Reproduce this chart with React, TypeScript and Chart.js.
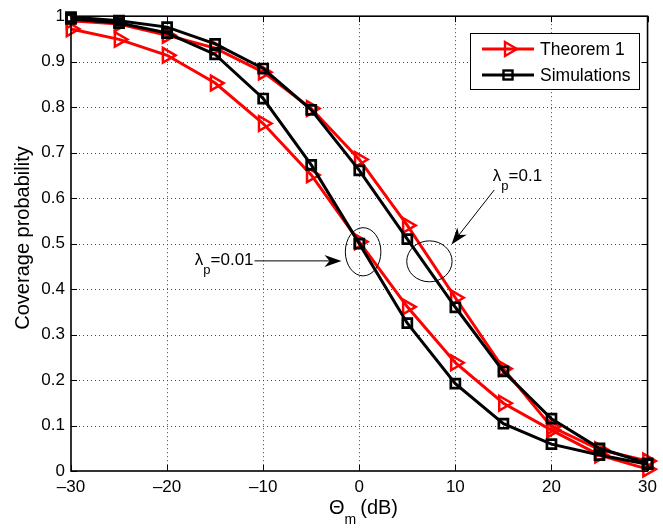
import React, { useEffect, useRef } from 'react';
import { Chart, registerables } from 'chart.js';

Chart.register(...registerables);

// ---------- data ----------
const thetaDb = [-30, -25, -20, -15, -10, -5, 0, 5, 10, 15, 20, 25, 30];
// lambda_p = 0.01
const theoremLow = [0.972, 0.949, 0.914, 0.853, 0.764, 0.651, 0.504, 0.361, 0.238, 0.149, 0.09, 0.035, 0.004];
const simLow = [0.994, 0.985, 0.963, 0.916, 0.819, 0.673, 0.5, 0.325, 0.192, 0.104, 0.059, 0.035, 0.015];
// lambda_p = 0.1
const theoremHigh = [0.99, 0.983, 0.958, 0.93, 0.877, 0.797, 0.685, 0.54, 0.381, 0.225, 0.097, 0.047, 0.022];
const simHigh = [0.998, 0.99, 0.976, 0.939, 0.885, 0.794, 0.661, 0.51, 0.36, 0.219, 0.115, 0.05, 0.017];

const xTicks = [-30, -20, -10, 0, 10, 20, 30];
const yTicks = [0, 0.1, 0.2, 0.3, 0.4, 0.5, 0.6, 0.7, 0.8, 0.9, 1];
const legendLabels = ['Theorem 1', 'Simulations'];
const yTitle = 'Coverage probability';
const xTitleMain = 'Θ';
const xTitleSub = 'm';
const xTitleRest = '\u2009(dB)';
const annLowLabel = { main: 'λ', sub: 'p', rest: '=0.01' };
const annHighLabel = { main: 'λ', sub: 'p', rest: '=0.1' };

const FONT = '"Liberation Sans", Arial, Helvetica, sans-serif';
const RED = '#ff0000';
const BLACK = '#000000';

const toPts = (ys: number[]) => thetaDb.map((x, i) => ({ x, y: ys[i] }));

function drawSubText(
  ctx: CanvasRenderingContext2D,
  x: number,
  baseline: number,
  main: string,
  sub: string,
  rest: string,
  size: number,
  subSize: number,
  subDrop: number,
  align: 'left' | 'right'
) {
  ctx.font = `${size}px ${FONT}`;
  const wMain = ctx.measureText(main).width;
  const wRest = ctx.measureText(rest).width;
  ctx.font = `${subSize}px ${FONT}`;
  const wSub = ctx.measureText(sub).width;
  const total = wMain + wSub + wRest;
  const left = align === 'left' ? x : x - total;
  ctx.textAlign = 'left';
  ctx.textBaseline = 'alphabetic';
  ctx.fillStyle = '#000';
  ctx.font = `${size}px ${FONT}`;
  ctx.fillText(main, left, baseline);
  ctx.font = `${subSize}px ${FONT}`;
  ctx.fillText(sub, left + wMain, baseline + subDrop);
  ctx.font = `${size}px ${FONT}`;
  ctx.fillText(rest, left + wMain + wSub, baseline);
}

function drawArrow(ctx: CanvasRenderingContext2D, x1: number, y1: number, x2: number, y2: number) {
  const ang = Math.atan2(y2 - y1, x2 - x1);
  const len = 17;
  const half = 6;
  const notch = 12;
  const cos = Math.cos(ang);
  const sin = Math.sin(ang);
  ctx.strokeStyle = '#000';
  ctx.lineWidth = 1;
  ctx.beginPath();
  ctx.moveTo(x1, y1);
  ctx.lineTo(x2 - cos * notch, y2 - sin * notch);
  ctx.stroke();
  ctx.fillStyle = '#000';
  ctx.beginPath();
  ctx.moveTo(x2, y2);
  ctx.lineTo(x2 - cos * len - sin * half, y2 - sin * len + cos * half);
  ctx.lineTo(x2 - cos * notch, y2 - sin * notch);
  ctx.lineTo(x2 - cos * len + sin * half, y2 - sin * len - cos * half);
  ctx.closePath();
  ctx.fill();
}

function triRight(ctx: CanvasRenderingContext2D, x: number, y: number, r: number) {
  ctx.beginPath();
  ctx.moveTo(x + r, y);
  ctx.lineTo(x - r / 2, y - r * 0.866);
  ctx.lineTo(x - r / 2, y + r * 0.866);
  ctx.closePath();
}

const matlabPlugin = {
  id: 'matlabStyle',
  beforeDatasetsDraw(chart: any) {
    const { ctx, chartArea: a } = chart;
    const xs = chart.scales.x;
    const ys = chart.scales.y;
    ctx.save();
    ctx.strokeStyle = '#444';
    ctx.lineWidth = 1;
    ctx.setLineDash([1, 3]);
    for (const v of xTicks) {
      if (v === xTicks[0] || v === xTicks[xTicks.length - 1]) continue;
      const p = Math.round(xs.getPixelForValue(v)) + 0.5;
      ctx.beginPath();
      ctx.moveTo(p, a.top);
      ctx.lineTo(p, a.bottom);
      ctx.stroke();
    }
    for (const v of yTicks) {
      if (v === yTicks[0] || v === yTicks[yTicks.length - 1]) continue;
      const p = Math.round(ys.getPixelForValue(v)) + 0.5;
      ctx.beginPath();
      ctx.moveTo(a.left, p);
      ctx.lineTo(a.right, p);
      ctx.stroke();
    }
    ctx.restore();
  },
  afterDatasetsDraw(chart: any) {
    const { ctx, chartArea: a } = chart;
    const xs = chart.scales.x;
    const ys = chart.scales.y;
    const px = (v: number) => xs.getPixelForValue(v);
    const py = (v: number) => ys.getPixelForValue(v);
    ctx.save();
    ctx.setLineDash([]);

    // frame
    ctx.strokeStyle = '#000';
    ctx.lineWidth = 1.6;
    ctx.strokeRect(a.left, a.top, a.right - a.left, a.bottom - a.top);

    // inward ticks
    ctx.lineWidth = 1;
    const tl = 6;
    for (const v of xTicks) {
      const p = Math.round(px(v)) + 0.5;
      ctx.beginPath();
      ctx.moveTo(p, a.bottom);
      ctx.lineTo(p, a.bottom - tl);
      ctx.moveTo(p, a.top);
      ctx.lineTo(p, a.top + tl);
      ctx.stroke();
    }
    for (const v of yTicks) {
      const p = Math.round(py(v)) + 0.5;
      ctx.beginPath();
      ctx.moveTo(a.left, p);
      ctx.lineTo(a.left + tl, p);
      ctx.moveTo(a.right, p);
      ctx.lineTo(a.right - tl, p);
      ctx.stroke();
    }

    // annotations: ellipses
    ctx.strokeStyle = '#000';
    ctx.lineWidth = 1;
    const ell = (cx: number, cy: number, rxD: number, ryD: number) => {
      const cxp = px(cx);
      const cyp = py(cy);
      const rx = Math.abs(px(cx + rxD) - cxp);
      const ry = Math.abs(py(cy + ryD) - cyp);
      ctx.beginPath();
      ctx.ellipse(cxp, cyp, rx, ry, 0, 0, Math.PI * 2);
      ctx.stroke();
    };
    ell(0.4, 0.482, 1.85, 0.053);
    ell(7.3, 0.461, 2.36, 0.045);

    // arrows
    drawArrow(ctx, px(-10.9), py(0.462), px(-1.85), py(0.462));
    drawArrow(ctx, px(14.05), py(0.618), px(9.6), py(0.498));

    // annotation texts
    drawSubText(ctx, px(-11.0), py(0.453), annLowLabel.main, annLowLabel.sub, annLowLabel.rest, 17, 13, 9, 'right');
    drawSubText(ctx, px(13.9), py(0.637), annHighLabel.main, annHighLabel.sub, annHighLabel.rest, 17, 13, 9, 'left');

    // legend
    const lx = 470.5, ly = 33.5, lw = 169, lh = 56;
    ctx.fillStyle = '#fff';
    ctx.fillRect(lx, ly, lw, lh);
    ctx.strokeStyle = '#000';
    ctx.lineWidth = 1;
    ctx.strokeRect(lx, ly, lw, lh);
    const rows = [49, 75];
    const colors = [RED, BLACK];
    rows.forEach((ry, i) => {
      ctx.strokeStyle = colors[i];
      ctx.lineWidth = 3;
      ctx.beginPath();
      ctx.moveTo(482, ry);
      ctx.lineTo(534, ry);
      ctx.stroke();
      ctx.lineWidth = 2.4;
      if (i === 0) {
        triRight(ctx, 509, ry, 8);
        ctx.stroke();
      } else {
        ctx.strokeRect(503.5, ry - 4.5, 9, 9);
      }
      ctx.fillStyle = '#000';
      ctx.font = `17.5px ${FONT}`;
      ctx.textAlign = 'left';
      ctx.textBaseline = 'middle';
      ctx.fillText(legendLabels[i], 540, ry + 1);
    });

    // y title
    ctx.save();
    ctx.translate(23, 238);
    ctx.rotate(-Math.PI / 2);
    ctx.fillStyle = '#000';
    ctx.font = `20px ${FONT}`;
    ctx.textAlign = 'center';
    ctx.textBaseline = 'middle';
    ctx.fillText(yTitle, 0, 0);
    ctx.restore();

    // x title
    drawSubText(ctx, 329, 514, xTitleMain, xTitleSub, xTitleRest, 20, 14, 10, 'left');

    ctx.restore();
  },
};

export default function App() {
  const ref = useRef<HTMLCanvasElement | null>(null);
  useEffect(() => {
    if (!ref.current) return;
    const mk = (data: number[], color: string, style: 'tri' | 'sq') => ({
      data: toPts(data),
      borderColor: color,
      backgroundColor: color,
      borderWidth: 3,
      pointStyle: style === 'tri' ? 'triangle' : 'rect',
      pointRotation: style === 'tri' ? 90 : 0,
      pointRadius: style === 'tri' ? 8.4 : 6.4,
      pointBorderWidth: style === 'tri' ? 2.5 : 2.7,
      pointBorderColor: color,
      pointBackgroundColor: 'rgba(0,0,0,0)',
      tension: 0,
      fill: false,
      clip: false as any,
    });
    const chart = new Chart(ref.current, {
      type: 'line',
      data: {
        datasets: [
          { label: legendLabels[1], ...mk(simHigh, BLACK, 'sq') },
          { label: legendLabels[1], ...mk(simLow, BLACK, 'sq') },
          { label: legendLabels[0], ...mk(theoremHigh, RED, 'tri') },
          { label: legendLabels[0], ...mk(theoremLow, RED, 'tri') },
        ] as any,
      },
      options: {
        animation: false,
        responsive: false,
        events: [],
        layout: { padding: { top: 14, right: 11, left: 0, bottom: 0 } },
        plugins: {
          legend: { display: false },
          tooltip: { enabled: false },
          title: { display: false },
        },
        scales: {
          x: {
            type: 'linear',
            min: -30,
            max: 30,
            grid: { display: false, drawTicks: false },
            border: { display: false },
            ticks: {
              stepSize: 10,
              color: '#000',
              padding: 6,
              font: { family: FONT, size: 17 },
              callback: (v: any) => (Number(v) < 0 ? '\u2013' + Math.abs(Number(v)) : String(v)),
            },
            afterFit: (s: any) => {
              s.height = 58;
            },
          },
          y: {
            type: 'linear',
            min: 0,
            max: 1,
            grid: { display: false, drawTicks: false },
            border: { display: false },
            ticks: {
              stepSize: 0.1,
              color: '#000',
              padding: 6,
              font: { family: FONT, size: 17 },
              callback: (v: any) => String(Number(Number(v).toFixed(1))),
            },
            afterFit: (s: any) => {
              s.width = 71;
            },
          },
        },
      },
      plugins: [matlabPlugin],
    });
    return () => chart.destroy();
  }, []);
  return (
    <div style={{ position: 'fixed', left: 0, top: 0, width: 663, height: 529, background: '#fff' }}>
      <canvas ref={ref} width={663} height={529} style={{ display: 'block' }} />
    </div>
  );
}
